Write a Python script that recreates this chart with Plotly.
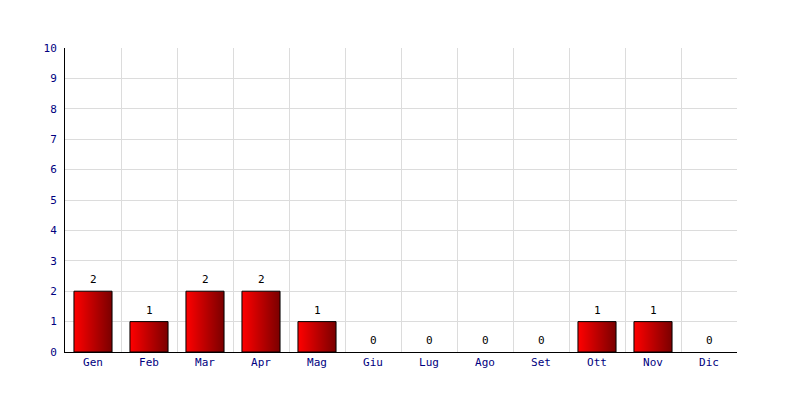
import plotly.graph_objects as go

months = ["Gen", "Feb", "Mar", "Apr", "Mag", "Giu", "Lug", "Ago", "Set", "Ott", "Nov", "Dic"]
values = [2, 1, 2, 2, 1, 0, 0, 0, 0, 1, 1, 0]
y_ticks = list(range(0, 11))

BAR_W = 0.68
fig = go.Figure()

for i, v in enumerate(values):
    if v <= 0:
        continue
    x0, x1 = i - BAR_W / 2, i + BAR_W / 2
    fig.add_trace(go.Scatter(
        x=[x0, x1, x1, x0, x0], y=[0, 0, v, v, 0],
        mode="lines", fill="toself",
        line=dict(color="black", width=1),
        fillgradient=dict(type="horizontal",
                          colorscale=[[0, "#ff0000"], [1, "#7a0000"]]),
        hoverinfo="skip", showlegend=False,
    ))

for i, v in enumerate(values):
    fig.add_annotation(
        x=i, y=v, text=str(v), showarrow=False,
        yanchor="bottom", yshift=3,
        font=dict(family="DejaVu Sans Mono", size=11, color="black"),
    )

fig.update_layout(
    width=800, height=400,
    margin=dict(l=57, r=71, t=40, b=56),
    plot_bgcolor="white", paper_bgcolor="white",
    font=dict(family="DejaVu Sans Mono", size=11, color="#000080"),
    xaxis=dict(
        range=[-0.5, len(months) - 0.5],
        tickmode="array", tickvals=list(range(len(months))), ticktext=months,
        showgrid=False, zeroline=False, ticks="",
        showline=True, linecolor="black", linewidth=1,
        minor=dict(tickmode="array",
                   tickvals=[k + 0.5 for k in range(len(months))],
                   showgrid=True, gridcolor="#dcdcdc", gridwidth=1, ticks=""),
        fixedrange=True,
    ),
    yaxis=dict(
        range=[0, 10], tickmode="array", tickvals=y_ticks,
        ticktext=[str(t) for t in y_ticks],
        showgrid=True, gridcolor="#dcdcdc", gridwidth=1, zeroline=False,
        showline=True, linecolor="black", linewidth=1, ticks="",
        ticklabelstandoff=5, fixedrange=True,
    ),
)

fig.write_html("out.html")
